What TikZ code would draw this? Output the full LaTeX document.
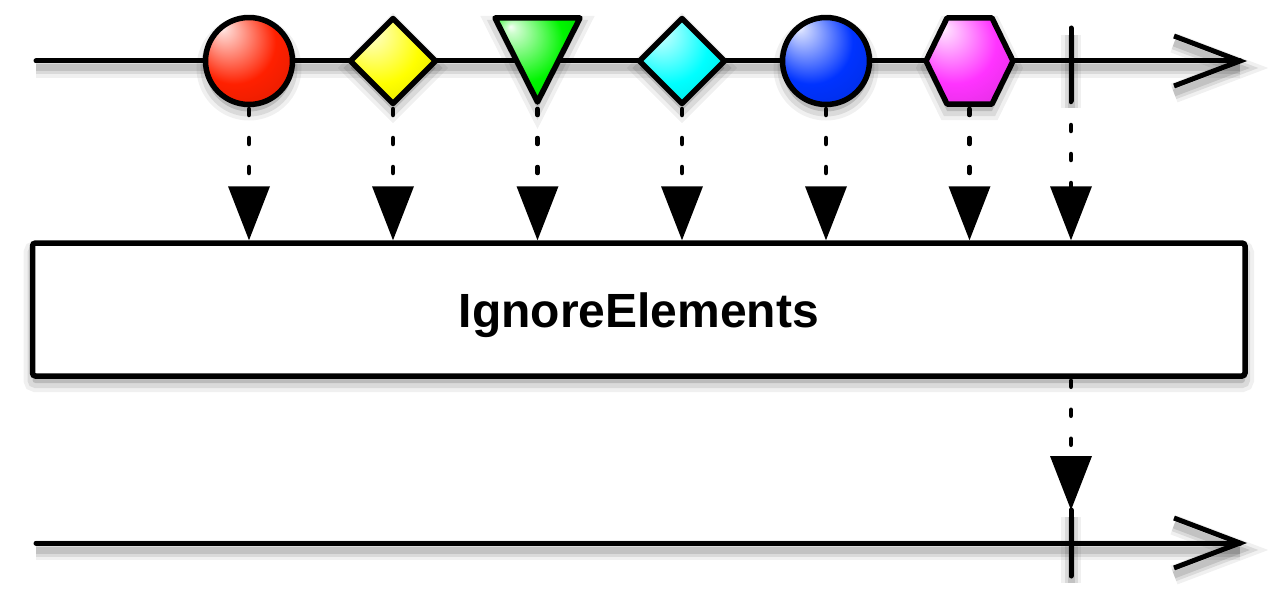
\documentclass[tikz,border=0pt]{standalone}
\usepackage{fontspec}
\setmainfont{Liberation Sans}
\usetikzlibrary{arrows.meta,calc}
\definecolor{mred}{RGB}{255,32,0}
\definecolor{myellow}{RGB}{255,255,0}
\definecolor{mgreen}{RGB}{0,245,0}
\definecolor{mcyan}{RGB}{0,255,255}
\definecolor{mblue}{RGB}{0,51,255}
\definecolor{mmag}{RGB}{255,51,255}
\colorlet{glosscol}{red}
\pgfdeclareradialshading[glosscol]{gloss}{\pgfpoint{-16bp}{20bp}}{%
  color(0bp)=(glosscol!3!white); color(3bp)=(glosscol!20!white);
  color(24bp)=(glosscol); color(42bp)=(glosscol!86!black);
  color(52bp)=(glosscol!60!black)}
\begin{document}
\begin{tikzpicture}[x=1pt,y=-1pt,
  lineshade/.style={
    preaction={draw=black, draw opacity=0.06, line width=20pt, transform canvas={yshift=-7pt}},
    preaction={draw=black, draw opacity=0.09, line width=13pt, transform canvas={yshift=-7pt}},
    preaction={draw=black, draw opacity=0.11, line width=7pt, transform canvas={yshift=-7pt}}},
  shapeshade/.style={
    preaction={fill=black, fill opacity=0.06, draw=black, draw opacity=0.06, line width=18pt, transform canvas={yshift=-7pt}},
    preaction={fill=black, fill opacity=0.09, draw=black, draw opacity=0.09, line width=10pt, transform canvas={yshift=-7pt}}},
  axis/.style={line width=5pt, line cap=round, lineshade},
  chev/.style={line width=5pt, line join=miter, line cap=butt, lineshade},
  tick/.style={line width=5pt, line cap=round, lineshade},
  item/.style={draw=black, line width=5.5pt, line join=round, shapeshade,
    /utils/exec={\colorlet{glosscol}{#1}}, shade, shading=gloss},
  opbox/.style={draw=black, fill=white, line width=5.5pt, rounded corners=3pt,
    minimum width=1212.5pt, minimum height=133pt, inner sep=0pt, shapeshade,
    text height=35pt, text depth=0pt,
    font=\bfseries\fontsize{48}{50}\selectfont},
  flow/.style={line width=4.5pt, line cap=round, dash pattern=on 6pt off 23pt,
    -{Triangle[length=54pt,width=42pt,line width=0pt]}}
]
\useasboundingbox (0,0) rectangle (1280,610);
% top timeline
\coordinate (a0) at (36,61);
\coordinate (a1) at (1240,61);
\draw[axis] (a0) -- (a1);
\draw[chev] ($(a1)+(-66,-25)$) -- (a1) -- ($(a1)+(-66,25)$);
% bottom timeline
\coordinate (b0) at (36,543);
\coordinate (b1) at (1240,543);
\draw[axis] (b0) -- (b1);
\draw[chev] ($(b1)+(-66,-25)$) -- (b1) -- ($(b1)+(-66,25)$);
% completion ticks
\coordinate (t0) at (1071,28);
\coordinate (t1) at (1071,101);
\draw[tick] (t0) -- (t1);
\coordinate (u0) at (1071,510);
\coordinate (u1) at (1071,576);
\draw[tick] (u0) -- (u1);
% items
\path[item=mred] (249,61) circle[radius=43.5];
\path[item=myellow] (350.5,61) -- (393,18.5) -- (435.5,61) -- (393,103.5) -- cycle;
\path[item=mgreen] (495,18) -- (580,18) -- (537.5,102) -- cycle;
\path[item=mcyan] (639.5,61) -- (682,18.5) -- (724.5,61) -- (682,103.5) -- cycle;
\path[item=mblue] (826,61) circle[radius=43.5];
\path[item=mmag] (926,61) -- (947,18) -- (992,18) -- (1013,61) -- (992,104) -- (947,104) -- cycle;
\coordinate (e1) at (249,109);
\coordinate (e2) at (393,109);
\coordinate (e3) at (537.5,109);
\coordinate (e4) at (682,109);
\coordinate (e5) at (826,109);
\coordinate (e6) at (969.5,109);
\coordinate (e7) at (1071,96);
% operator box
\node[opbox] (op) at (638.75,309.5) {IgnoreElements};
% connectors
\foreach \i in {1,...,7}{
  \draw[flow] (e\i) -- (e\i |- op.north);
}
\coordinate (f0) at ($(1071,0 |- op.south)+(0,2)$);
\draw[flow] (f0) -- (u0);
\end{tikzpicture}
\end{document}
